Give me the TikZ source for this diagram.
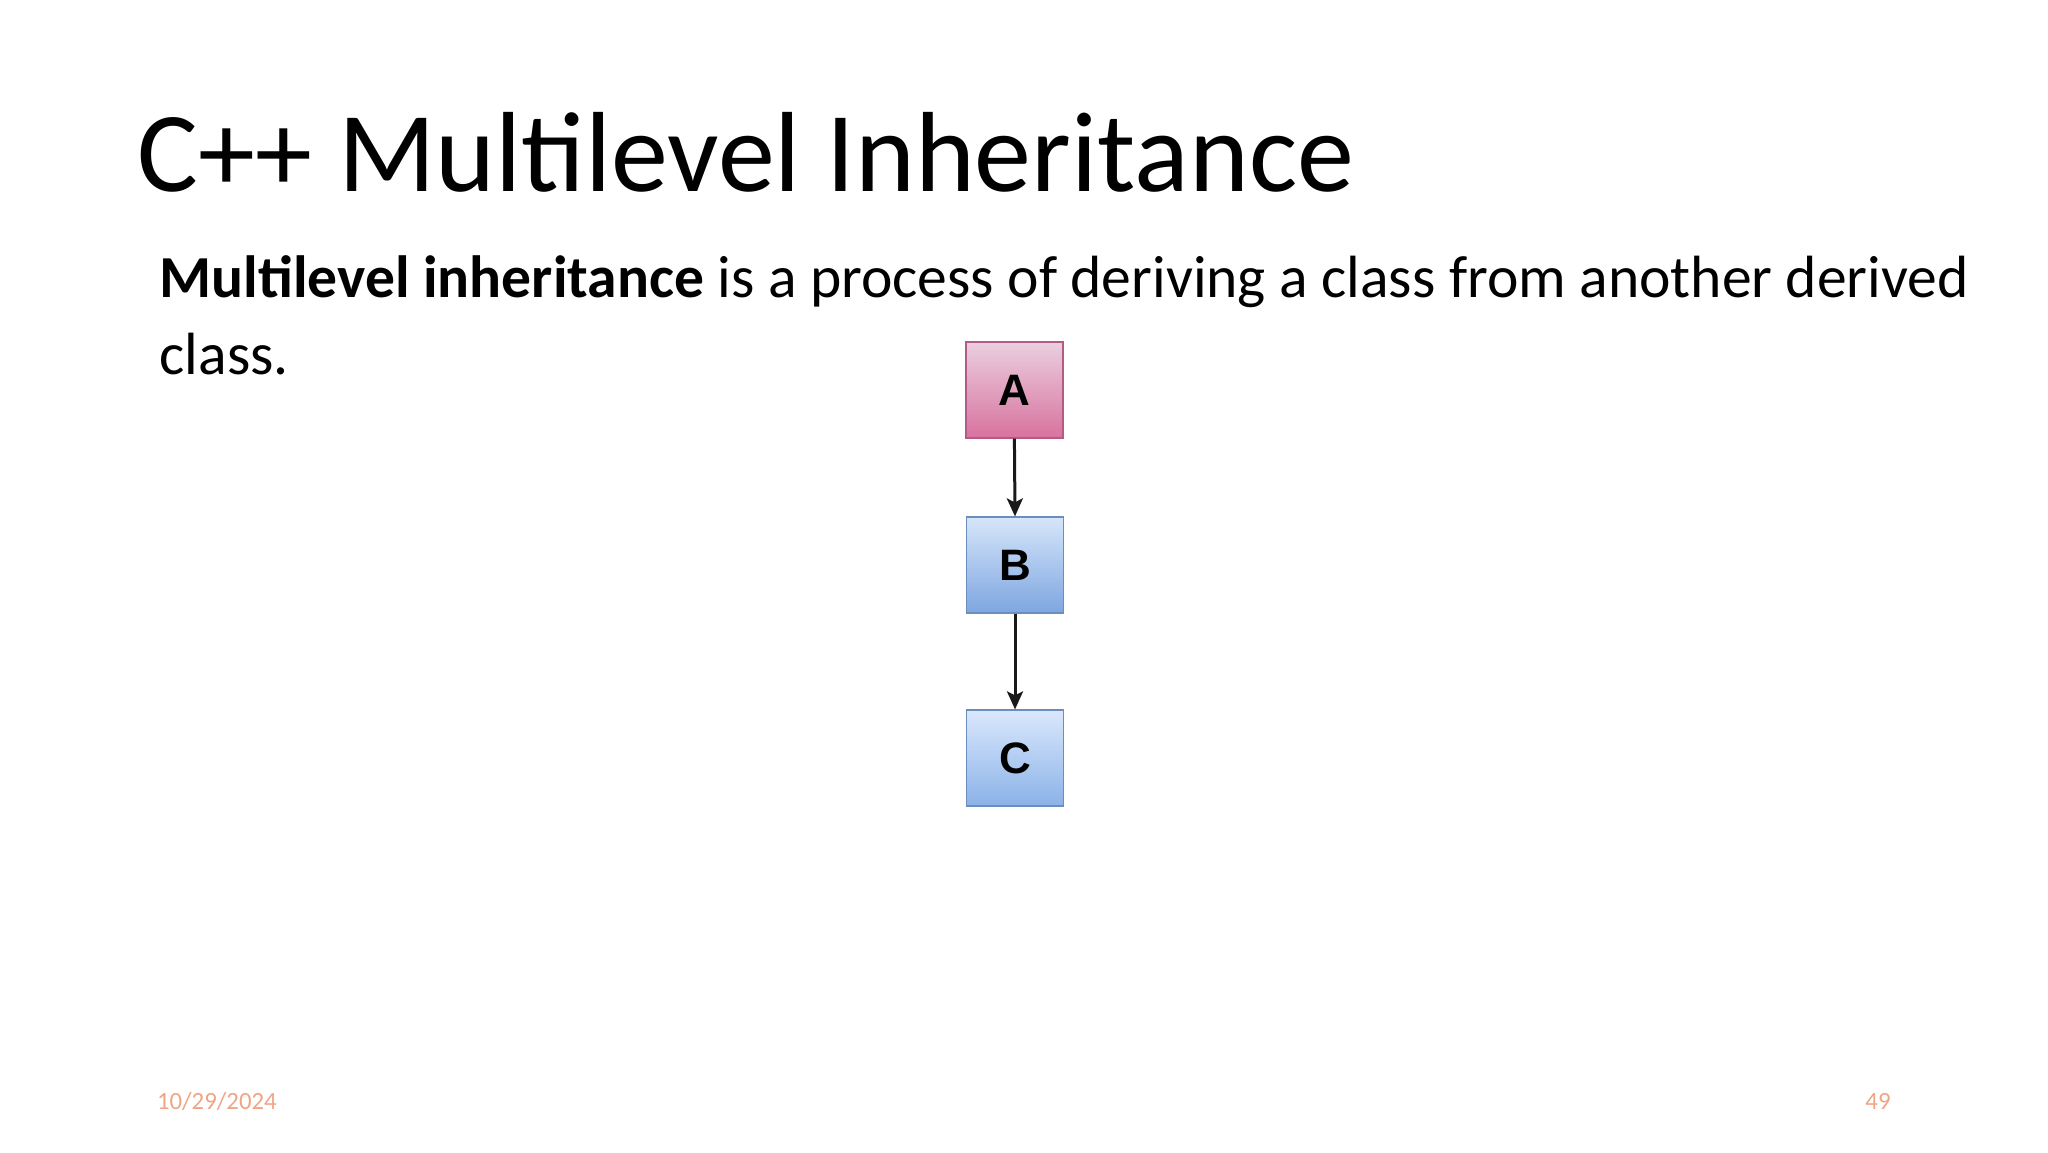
\documentclass[tikz,border=0pt]{standalone}
\usepackage{fontspec}
\setmainfont{Carlito}
\newfontfamily\boxfont{Liberation Sans}
\usetikzlibrary{arrows.meta}
\definecolor{footc}{HTML}{EFA585}
\definecolor{atop}{HTML}{EACFDF}
\definecolor{abot}{HTML}{D8729E}
\definecolor{aline}{HTML}{B35A86}
\definecolor{btop}{HTML}{D6E6FA}
\definecolor{bbot}{HTML}{7EA6E0}
\definecolor{ctop}{HTML}{DAE8FC}
\definecolor{cbot}{HTML}{8BB2E8}
\definecolor{bline}{HTML}{6C8EBF}
\tikzset{
  cls/.style={minimum width=48.5pt, minimum height=48pt, inner sep=0pt, line width=0.6pt,
    font=\boxfont\bfseries\fontsize{22}{24}\selectfont},
  inh/.style={-{Stealth[length=9pt,width=8pt,inset=2pt]}, line width=1.5pt, black!90},
}
\begin{document}
\begin{tikzpicture}[x=1pt,y=1pt]
\useasboundingbox (0,0) rectangle (1024,576);
\node[anchor=base west, inner sep=0pt, font=\fontsize{57}{68}\selectfont] (title) at (68.5,480) {C++ Multilevel Inheritance};
\node[anchor=base west, inner sep=0pt, font=\fontsize{29.8}{36}\selectfont] (l1) at (79.6,427) {\textbf{Multilevel inheritance} is a process of deriving a class from another derived};
\node[anchor=base west, inner sep=0pt, font=\fontsize{29.8}{36}\selectfont] (l2) at (79.6,388.6) {class.};
\node[cls, draw=aline, top color=atop, bottom color=abot] (A) at (507.2,381) {A};
\node[cls, draw=bline, top color=btop, bottom color=bbot] (B) at (507.5,293.5) {B};
\node[cls, draw=bline, top color=ctop, bottom color=cbot] (C) at (507.5,197) {C};
\draw[inh] (A.south) -- (B.north);
\draw[inh] (B.south) -- (C.north);
\node[anchor=base west, inner sep=0pt, text=footc, font=\fontsize{12.4}{14}\selectfont] (date) at (78.3,21.5) {10/29/2024};
\node[anchor=base east, inner sep=0pt, text=footc, font=\fontsize{12.4}{14}\selectfont] (page) at (945.5,21.5) {49};
\end{tikzpicture}
\end{document}
